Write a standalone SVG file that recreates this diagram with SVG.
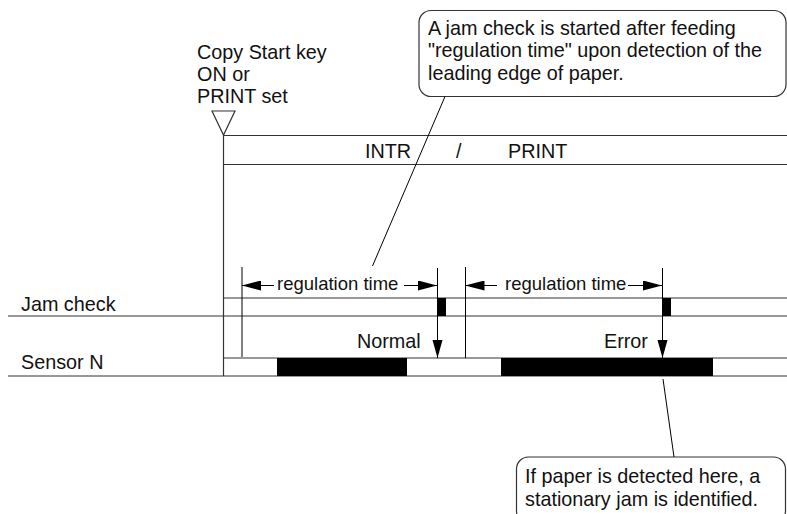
<svg xmlns="http://www.w3.org/2000/svg" width="787" height="514" viewBox="0 0 787 514">
<style>
.ln{stroke:#333;stroke-width:1.2;fill:none}
.thin{stroke:#000;stroke-width:1;fill:none}
.t{font-family:"Liberation Sans",Arial,sans-serif;font-size:19.8px;fill:#111}
.rt{font-family:"Liberation Sans",Arial,sans-serif;font-size:18.5px;fill:#111}
.blk{fill:#000}
.box{fill:#fff;stroke:#333;stroke-width:1.2}
</style>
<defs>
<marker id="ah" markerWidth="19" markerHeight="10" refX="19" refY="5" orient="auto" markerUnits="userSpaceOnUse">
<path d="M0,0 L19,5 L0,10 Z" fill="#000"/>
</marker>
</defs>
<rect width="787" height="514" fill="#fff"/>

<g id="start-marker">
<path d="M212,111 L235,111 L223.5,135 Z" class="ln" fill="#fff"/>
<text class="t" x="197" y="59">Copy Start key</text>
<text class="t" x="197" y="81">ON or</text>
<text class="t" x="197" y="103">PRINT set</text>
</g>

<g id="intr-print">
<line x1="223" y1="135.5" x2="787" y2="135.5" class="ln"/>
<line x1="223" y1="164.5" x2="787" y2="164.5" class="ln"/>
<text class="t" x="365" y="158">INTR</text>
<text class="t" x="456" y="158">/</text>
<text class="t" x="508" y="158">PRINT</text>
</g>

<g id="jam-check">
<text class="t" x="21" y="311">Jam check</text>
<line x1="223" y1="298" x2="787" y2="298" class="ln"/>
<line x1="8" y1="316" x2="787" y2="316" class="ln"/>
<rect x="437" y="298" width="9" height="18" class="blk"/>
<rect x="662" y="298" width="9" height="18" class="blk"/>
</g>

<g id="sensor-n">
<text class="t" x="21" y="369">Sensor N</text>
<line x1="223" y1="358" x2="787" y2="358" class="ln"/>
<line x1="8" y1="376" x2="787" y2="376" class="ln"/>
<rect x="277" y="358" width="130" height="18" class="blk"/>
<rect x="501" y="358" width="212" height="18" class="blk"/>
<text class="t" x="357" y="348">Normal</text>
<text class="t" x="604" y="348">Error</text>
</g>

<g id="callout-top">
<rect x="419" y="10.5" width="367" height="86" rx="12" ry="12" class="box"/>
<text class="t" x="428" y="35">A jam check is started after feeding</text>
<text class="t" x="428" y="57">"regulation time" upon detection of the</text>
<text class="t" x="428" y="80">leading edge of paper.</text>
</g>

<g id="callout-bottom">
<rect x="516.5" y="457" width="269" height="66" rx="12" ry="12" class="box"/>
<text class="t" x="525" y="483">If paper is detected here, a</text>
<text class="t" x="525" y="506">stationary jam is identified.</text>
</g>

<g id="regulation-1">
<text class="rt" x="277" y="290">regulation time</text>
</g>
<g id="regulation-2">
<text class="rt" x="505" y="290">regulation time</text>
</g>

<g id="connectors">
<line x1="223.5" y1="135" x2="223.5" y2="376" class="ln"/>
<line x1="242" y1="267" x2="242" y2="357" class="thin"/>
<line x1="465.5" y1="267" x2="465.5" y2="358" class="thin"/>
<line x1="437.5" y1="268" x2="437.5" y2="358" class="thin"/>
<line x1="662.5" y1="268" x2="662.5" y2="358" class="thin"/>
<path d="M432.5,340 L442.5,340 L437.5,358 Z" class="blk"/>
<path d="M657.5,340 L667.5,340 L662.5,358 Z" class="blk"/>
<line x1="274" y1="285.5" x2="242" y2="285.5" class="thin" marker-end="url(#ah)"/>
<line x1="404" y1="285.5" x2="437" y2="285.5" class="thin" marker-end="url(#ah)"/>
<line x1="497" y1="285.5" x2="465.5" y2="285.5" class="thin" marker-end="url(#ah)"/>
<line x1="628" y1="285.5" x2="662" y2="285.5" class="thin" marker-end="url(#ah)"/>
<line x1="445" y1="96.5" x2="372.5" y2="266" class="thin"/>
<line x1="663" y1="379" x2="674" y2="457" class="thin"/>
</g>
</svg>
